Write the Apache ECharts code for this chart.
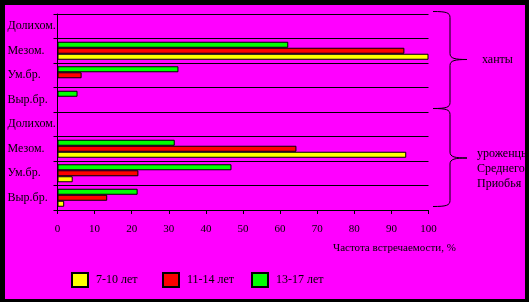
<!DOCTYPE html>
<html>
<head>
<meta charset="utf-8">
<script src="https://cdn.jsdelivr.net/npm/echarts@6/dist/echarts.min.js"></script>
<style>
html,body{margin:0;padding:0;background:#000;}
#c{width:529px;height:302px;}
</style>
</head>
<body>
<div id="c"></div>
<script>
// Categories listed top to bottom as in the picture
var categories = ['Долихом.', 'Мезом.', 'Ум.бр.', 'Выр.бр.', 'Долихом.', 'Мезом.', 'Ум.бр.', 'Выр.бр.'];
var seriesNames = ['7-10 лет', '11-14 лет', '13-17 лет'];
var age7_10  = [0, 100, 0, 0, 0, 94, 4.1, 1.8];
var age11_14 = [0, 93.5, 6.5, 0, 0, 64.4, 21.8, 13.4];
var age13_17 = [0, 62.2, 32.6, 5.4, 0, 31.6, 46.9, 21.6];
var xTicks = [0, 10, 20, 30, 40, 50, 60, 70, 80, 90, 100];
var groupLabels = ['ханты', 'уроженцы\nСреднего\nПриобья'];
var axisTitle = 'Частота встречаемости, %';
var colors = ['#FFFF00', '#FF0000', '#00FF00'];

var FONT = '"Liberation Serif", "DejaVu Serif", serif';
var chart = echarts.init(document.getElementById('c'), null, {renderer: 'canvas'});

function clean(a) { return a.map(function (v) { return v === 0 ? '-' : v; }); }

var dataSets = [age7_10, age11_14, age13_17];
var series = dataSets.map(function (d, i) {
  return {
    name: seriesNames[i],
    type: 'bar',
    data: clean(d),
    barWidth: 6,
    barGap: '0%',
    itemStyle: {color: colors[i], borderColor: '#000', borderWidth: 1},
    emphasis: {disabled: true},
    animation: false
  };
}).reverse(); // green on top, yellow at bottom within each band

var legendLefts = [71, 162, 251];
var legends = seriesNames.map(function (n, i) {
  return {
    data: [n],
    left: legendLefts[i],
    top: 272,
    padding: 0,
    itemWidth: 16,
    itemHeight: 14,
    icon: 'rect',
    selectedMode: false,
    textStyle: {fontFamily: FONT, fontSize: 12, color: '#000', padding: [0, 0, 0, 3]}
  };
});

var LS = {stroke: '#000', lineWidth: 1, fill: null};
function brace(y0, ym, y1) {
  var x0 = 433, xm = 450, xp = 467;
  return [
    {type: 'bezierCurve', z: 10, silent: true, style: LS,
     shape: {x1: x0, y1: y0, cpx1: 446, cpy1: y0, cpx2: xm, cpy2: y0 + 1, x2: xm, y2: y0 + 6}},
    {type: 'line', z: 10, silent: true, style: LS,
     shape: {x1: xm, y1: y0 + 6, x2: xm, y2: ym - 6}},
    {type: 'bezierCurve', z: 10, silent: true, style: LS,
     shape: {x1: xm, y1: ym - 6, cpx1: xm, cpy1: ym - 1, cpx2: 455, cpy2: ym, x2: xp, y2: ym}},
    {type: 'bezierCurve', z: 10, silent: true, style: LS,
     shape: {x1: xp, y1: ym, cpx1: 455, cpy1: ym, cpx2: xm, cpy2: ym + 1, x2: xm, y2: ym + 6}},
    {type: 'line', z: 10, silent: true, style: LS,
     shape: {x1: xm, y1: ym + 6, x2: xm, y2: y1 - 6}},
    {type: 'bezierCurve', z: 10, silent: true, style: LS,
     shape: {x1: xm, y1: y1 - 6, cpx1: xm, cpy1: y1 - 1, cpx2: 446, cpy2: y1, x2: x0, y2: y1}}
  ];
}

var graphics = [
  {type: 'rect', z: -10, shape: {x: 5, y: 5, width: 520, height: 294}, style: {fill: '#FF00FF'}, silent: true}
].concat(brace(11.5, 59.5, 108.5), brace(108.5, 158, 206.5), [
  {type: 'text', z: 10, left: 482, top: 54, style: {text: groupLabels[0], font: '12px ' + FONT, fill: '#000'}, silent: true},
  {type: 'text', z: 10, left: 477, top: 146, style: {text: groupLabels[1], font: '12px ' + FONT, fill: '#000', lineHeight: 15}, silent: true},
  {type: 'text', z: 10, left: 333, top: 243, style: {text: axisTitle, font: '11px ' + FONT, fill: '#000'}, silent: true}
]);

chart.setOption({
  backgroundColor: '#000',
  animation: false,
  grid: {left: 57.5, right: 100.5, top: 14, bottom: 92, containLabel: false},
  legend: legends,
  xAxis: {
    type: 'value',
    min: xTicks[0],
    max: xTicks[xTicks.length - 1],
    interval: xTicks[1] - xTicks[0],
    axisLine: {show: true, lineStyle: {color: '#000', width: 1}},
    axisTick: {show: true, length: 4, lineStyle: {color: '#000'}},
    splitLine: {show: false},
    axisLabel: {fontFamily: FONT, fontSize: 11, color: '#000', margin: 14}
  },
  yAxis: {
    type: 'category',
    inverse: true,
    data: categories,
    boundaryGap: true,
    axisLine: {show: true, lineStyle: {color: '#000', width: 1}},
    axisTick: {show: true, length: 4, lineStyle: {color: '#000'}},
    splitLine: {show: true, lineStyle: {color: '#000', width: 1}},
    axisLabel: {fontFamily: FONT, fontSize: 12, color: '#000', align: 'left', margin: 50}
  },
  graphic: graphics,
  series: series
});
</script>
</body>
</html>
